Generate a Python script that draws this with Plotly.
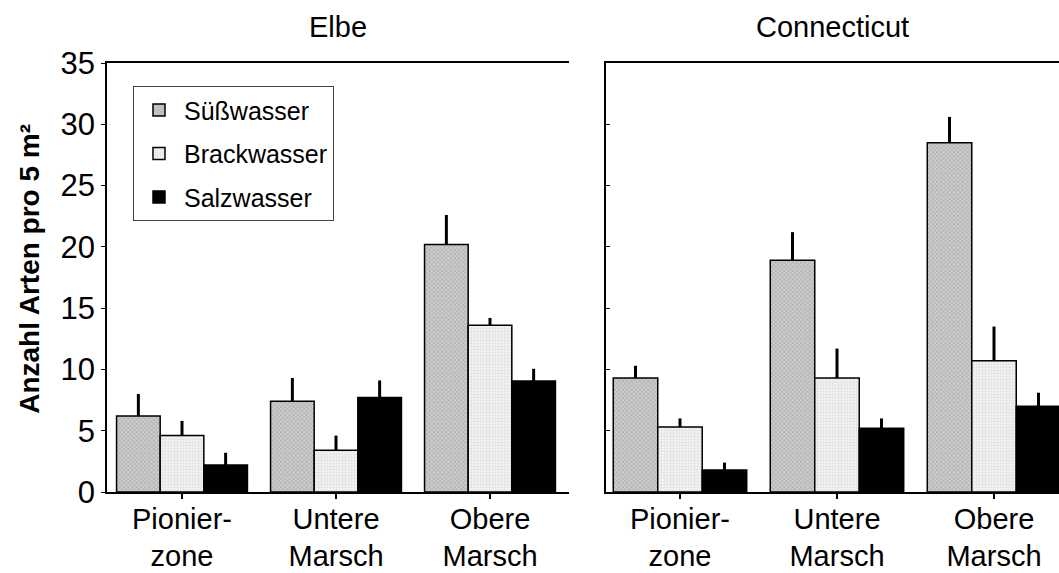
import plotly.graph_objects as go

categories = ["Pionier-<br>zone", "Untere<br>Marsch", "Obere<br>Marsch"]
series_names = ["Süßwasser", "Brackwasser", "Salzwasser"]

# Elbe
elbe_suess = [6.2, 7.4, 20.2]
elbe_suess_err = [1.8, 1.9, 2.4]
elbe_brack = [4.6, 3.4, 13.6]
elbe_brack_err = [1.2, 1.2, 0.6]
elbe_salz = [2.2, 7.7, 9.05]
elbe_salz_err = [1.0, 1.4, 1.0]

# Connecticut
conn_suess = [9.3, 18.9, 28.5]
conn_suess_err = [1.0, 2.3, 2.1]
conn_brack = [5.3, 9.3, 10.7]
conn_brack_err = [0.7, 2.4, 2.8]
conn_salz = [1.8, 5.2, 7.0]
conn_salz_err = [0.6, 0.8, 1.1]

y_ticks = [0, 5, 10, 15, 20, 25, 30, 35]

FONT = "Liberation Sans, Arial, sans-serif"

styles = [
    dict(color="#b8b8b8", pattern=dict(shape="x", fgcolor="#7a7a7a", bgcolor="#cccccc", size=3, solidity=0.35)),
    dict(color="#e6e6e6", pattern=dict(shape="+", fgcolor="#c4c4c4", bgcolor="#f2f2f2", size=3, solidity=0.3)),
    dict(color="#000000"),
]

fig = go.Figure()

panels = [
    ("x", "y", [elbe_suess, elbe_brack, elbe_salz], [elbe_suess_err, elbe_brack_err, elbe_salz_err], True),
    ("x2", "y2", [conn_suess, conn_brack, conn_salz], [conn_suess_err, conn_brack_err, conn_salz_err], False),
]

for xa, ya, vals, errs, show in panels:
    for i, name in enumerate(series_names):
        st = styles[i]
        marker = dict(color=st["color"], line=dict(color="black", width=1.5))
        if "pattern" in st:
            marker["pattern"] = st["pattern"]
        fig.add_trace(go.Bar(
            x=categories, y=vals[i], name=name, xaxis=xa, yaxis=ya,
            marker=marker, showlegend=show, legendgroup=name,
            error_y=dict(type="data", symmetric=False, array=errs[i],
                         arrayminus=[0] * len(errs[i]), thickness=3, width=0, color="black"),
        ))

axis_common = dict(showgrid=False, zeroline=False, showline=True, linecolor="black",
                   linewidth=1.5, tickcolor="black", automargin=False)

fig.update_layout(
    width=1059, height=573,
    margin=dict(l=107, r=0, t=63, b=81),
    paper_bgcolor="white", plot_bgcolor="white",
    barmode="group", bargap=0.15, bargroupgap=0,
    font=dict(family=FONT, color="black", size=30),
    xaxis=dict(domain=[0, 0.4853], range=[-0.487, 2.513], anchor="y", mirror=True,
               ticks="outside", ticklen=5, tickwidth=2, tickfont=dict(size=29),
               ticklabelstandoff=-5, **axis_common),
    yaxis=dict(domain=[0, 1], range=[0, 35], tickvals=y_ticks, anchor="x",
               ticks="outside", ticklen=4, tickwidth=1, tickfont=dict(size=31), **axis_common),
    yaxis3=dict(overlaying="y", anchor="x", side="right", range=[0, 35], tickvals=y_ticks,
                ticks="inside", ticklen=4, showticklabels=False, **axis_common),
    xaxis2=dict(domain=[0.5242, 1], range=[-0.471, 2.414], anchor="y2", mirror=True,
                ticks="outside", ticklen=5, tickwidth=2, tickfont=dict(size=29),
                ticklabelstandoff=-5, **axis_common),
    yaxis2=dict(domain=[0, 1], range=[0, 35], tickvals=y_ticks, anchor="x2",
                ticks="inside", ticklen=4, showticklabels=False, **axis_common),
    legend=dict(x=0.0273, y=0.946, xanchor="left", yanchor="top",
                bgcolor="white", bordercolor="#444", borderwidth=1,
                font=dict(size=25, family=FONT), itemwidth=40, tracegroupgap=8),
    annotations=[
        dict(text="Elbe", x=0.2427, y=1.084, xref="paper", yref="paper", showarrow=False,
             font=dict(size=29, family=FONT), xanchor="center", yanchor="middle"),
        dict(text="Connecticut", x=0.762, y=1.084, xref="paper", yref="paper", showarrow=False,
             font=dict(size=29, family=FONT), xanchor="center", yanchor="middle"),
        dict(text="<b>Anzahl Arten pro 5 m²</b>", x=-0.081, y=0.52, xref="paper", yref="paper",
             showarrow=False, textangle=-90, font=dict(size=28, family=FONT),
             xanchor="center", yanchor="middle"),
    ],
)

fig.write_html("out.html")
